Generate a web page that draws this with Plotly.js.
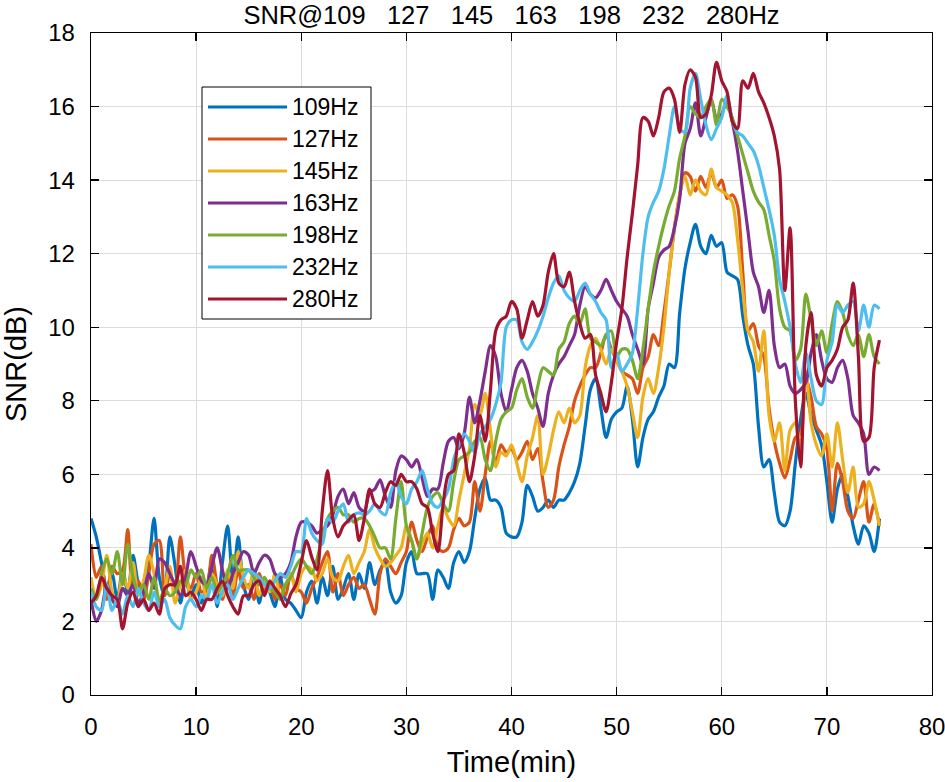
<!DOCTYPE html>
<html>
<head>
<meta charset="utf-8">
<script src="https://cdn.plot.ly/plotly-3.0.1.min.js"></script>
<style>html,body{margin:0;padding:0;background:#fff;}#chart{width:945px;height:782px;}</style>
</head>
<body>
<div id="chart"></div>
<script>
// ---- data (SNR in dB, sampled every 0.5 min from 0 to 75 min) ----
const timeMin = [];
for (let i = 0; i <= 150; i++) timeMin.push(i * 0.5);

const seriesNames = ['109Hz', '127Hz', '145Hz', '163Hz', '198Hz', '232Hz', '280Hz'];

const snr109 = [4.8,4.3,3.6,2.9,3.3,2.6,3.4,2.8,3.8,3.0,
 2.6,3.5,4.8,3.2,2.7,4.3,3.5,2.5,3.1,2.7,
 3.0,2.5,2.9,3.6,2.4,3.6,4.6,3.1,4.3,3.0,
 2.6,3.4,2.5,3.1,2.8,2.4,3.2,2.6,2.5,2.3,
 2.1,2.8,3.1,2.5,3.2,2.7,3.5,2.6,2.9,3.3,
 2.6,3.3,2.9,3.6,3.0,3.4,3.6,2.8,2.5,2.7,
 3.6,3.9,3.3,3.3,3.3,2.6,3.4,3.2,2.9,3.6,
 3.9,3.6,3.9,4.8,5.6,5.9,5.3,5.3,5.1,4.4,
 4.3,4.3,4.7,5.7,5.4,5.0,5.1,5.3,5.1,5.3,
 5.3,5.5,5.8,6.3,7.3,8.3,8.6,7.8,7.0,7.5,
 7.7,7.8,8.4,7.5,6.2,7.0,7.5,7.7,8.1,8.4,
 9.0,8.9,10.4,11.6,12.3,12.8,12.2,12.0,12.5,12.2,
 12.3,11.5,11.4,11.3,10.3,9.5,9.0,7.3,6.2,6.4,
 5.5,4.7,4.6,5.0,6.3,7.5,8.2,7.6,7.2,6.8,
 5.8,4.7,5.6,6.0,5.4,4.6,4.1,4.6,4.4,3.9,
 4.8];

const snr127 = [4.1,3.2,3.5,2.6,3.5,3.3,3.4,4.5,3.0,3.1,
 2.6,3.3,4.1,4.2,2.7,3.3,2.8,4.3,3.2,2.9,
 3.3,2.8,2.9,3.8,3.0,2.6,3.2,2.7,3.4,2.9,
 3.0,2.6,3.3,2.8,3.1,2.6,3.0,2.7,3.3,2.9,
 2.8,2.5,2.9,3.2,3.6,3.9,2.8,3.3,2.7,3.0,
 3.2,2.9,3.0,2.6,2.2,3.3,3.7,3.5,3.3,3.6,
 3.9,4.7,4.2,3.9,4.3,4.6,4.0,3.9,4.0,4.5,
 4.8,4.6,4.7,5.8,5.0,6.0,6.9,6.3,6.8,6.6,
 6.7,6.4,6.6,6.9,6.4,6.7,5.8,5.1,5.3,6.2,
 6.8,7.3,8.0,8.4,8.7,8.9,8.9,9.3,9.8,9.4,
 9.1,8.8,8.7,8.6,8.2,8.9,9.2,9.8,9.5,10.4,
 11.5,12.7,13.6,14.2,14.1,13.7,14.1,13.8,14.2,13.8,
 14.0,13.5,13.6,13.3,11.5,9.9,10.1,9.5,9.2,7.8,
 6.9,6.3,5.9,6.4,7.0,7.1,8.6,8.1,7.3,7.1,
 6.7,5.0,6.3,5.8,5.0,4.8,5.3,5.8,4.7,5.2,
 4.6];

const snr145 = [3.2,2.6,3.0,3.8,2.8,2.5,3.3,2.9,3.6,2.7,
 3.1,3.8,3.3,2.6,2.9,3.5,2.5,3.0,3.4,2.6,
 2.8,3.2,2.6,3.3,3.0,2.7,3.4,2.9,3.9,3.2,
 2.9,3.4,2.7,3.1,2.8,3.3,2.7,3.0,3.3,2.8,
 3.3,3.5,3.4,3.1,3.3,3.7,3.2,3.1,3.5,3.8,
 3.3,3.6,3.9,4.5,4.0,3.7,3.5,3.6,3.8,4.0,
 4.6,4.2,3.7,4.1,4.4,4.0,4.6,5.1,4.8,4.6,
 5.3,6.0,6.7,7.9,7.6,8.2,7.2,6.2,6.6,6.5,
 6.8,6.3,5.8,6.5,7.0,7.6,6.0,6.5,7.2,7.7,
 7.4,7.8,7.4,7.6,8.9,9.5,9.7,9.4,9.0,9.4,
 9.1,8.8,8.4,7.7,7.0,8.1,8.6,8.2,8.9,10.0,
 11.5,12.7,13.6,14.1,13.6,14.0,13.7,13.6,14.3,13.8,
 13.7,13.6,13.4,12.4,11.0,9.9,9.6,8.8,9.9,7.6,
 6.9,7.4,6.1,7.2,7.4,6.7,8.8,7.4,6.8,6.5,
 7.1,6.2,7.4,6.4,5.5,6.2,5.1,5.2,5.8,5.3,
 4.6];

const snr163 = [2.6,2.0,2.3,3.0,2.6,2.4,2.9,2.7,3.0,2.5,
 2.8,3.3,2.9,3.7,3.6,3.3,3.0,2.7,3.2,3.9,
 3.5,3.1,3.0,3.5,4.0,3.4,2.9,3.3,3.6,3.9,
 3.8,3.3,3.6,3.8,3.7,3.3,3.2,3.3,3.6,4.3,
 4.7,4.7,4.6,4.4,4.5,4.6,4.9,5.4,5.6,5.2,
 5.5,5.1,5.0,5.5,5.6,5.85,5.4,5.1,6.1,6.5,
 6.4,6.2,6.4,5.9,5.4,5.6,5.6,6.3,6.9,7.0,
 6.7,7.1,8.1,7.4,8.0,8.8,9.5,9.2,8.2,7.7,
 8.3,8.9,9.1,8.8,8.2,7.8,7.3,8.2,8.7,9.0,
 9.2,9.5,9.8,10.6,11.1,10.9,10.8,11.0,11.3,11.0,
 10.7,10.5,10.3,9.8,9.4,9.0,10.5,11.2,11.9,12.1,
 12.2,12.7,13.5,15.0,15.4,16.1,15.2,15.7,16.2,15.7,
 15.8,16.2,15.6,14.8,13.7,12.6,11.5,11.1,10.4,11.0,
 9.5,8.9,9.0,8.4,8.2,8.3,8.5,9.3,9.8,9.1,
 8.6,8.5,8.9,9.1,8.6,7.6,7.4,7.1,6.0,6.2,
 6.1];

const snr198 = [2.9,2.6,3.3,3.7,3.3,3.9,3.0,4.1,3.2,2.8,
 3.0,2.6,3.2,2.5,2.9,2.7,2.8,3.1,3.0,3.4,
 3.2,3.4,2.9,3.2,2.8,3.0,3.3,3.8,3.4,3.4,
 3.4,3.2,3.0,3.2,2.9,2.8,2.6,3.0,3.2,3.5,
 3.7,3.5,3.3,3.7,4.3,4.8,5.0,5.1,4.9,4.9,
 4.7,4.8,4.8,4.6,4.3,4.0,4.0,3.7,4.8,5.8,
 4.6,4.2,3.7,4.4,5.1,5.4,5.5,5.2,5.0,5.8,
 6.4,6.5,6.6,6.9,7.0,6.4,6.1,6.9,7.5,7.7,
 7.8,8.3,8.6,8.1,7.8,8.4,8.9,8.8,8.7,9.4,
 9.6,10.1,10.3,10.1,10.5,9.7,9.6,9.5,9.8,9.9,
 9.2,9.4,9.4,9.1,8.6,9.4,10.5,11.5,12.2,12.8,
 13.3,13.7,14.6,15.2,16.0,15.8,15.7,16.0,16.2,15.5,
 16.2,16.0,15.7,15.2,14.7,14.2,13.7,13.4,13.2,12.5,
 11.8,10.5,10.0,9.9,9.1,9.4,10.9,10.2,9.5,9.9,
 9.3,10.1,10.7,10.4,9.8,9.5,9.8,9.2,9.8,9.2,
 9.0];

const snr232 = [2.8,2.4,2.3,3.0,2.3,2.6,2.2,2.7,2.4,2.9,
 2.5,2.3,2.8,2.4,2.6,2.1,1.9,1.8,2.4,2.6,
 2.4,2.7,2.6,3.0,2.5,2.8,3.0,2.6,2.9,3.2,
 3.4,3.3,3.2,3.0,2.9,3.1,3.3,3.2,3.5,3.9,
 3.9,4.8,4.4,4.2,4.1,4.8,4.7,5.0,5.2,4.7,
 4.9,4.95,4.9,5.0,5.2,5.0,4.9,5.5,5.8,5.4,
 5.2,5.6,5.8,6.1,5.6,5.2,5.1,5.3,5.6,6.4,
 6.8,7.1,6.9,6.6,7.1,7.3,7.5,7.9,8.5,10.0,
 10.2,10.2,9.6,9.4,9.6,9.9,10.3,10.8,11.2,11.4,
 11.0,10.8,10.7,11.0,11.2,10.9,10.7,10.4,10.2,8.9,
 9.3,8.8,9.0,9.3,10.5,12.0,13.0,13.4,13.7,14.3,
 15.2,16.0,15.4,15.3,16.5,16.9,16.2,15.5,15.1,15.4,
 15.7,16.3,15.6,15.3,15.2,15.0,14.8,14.4,13.8,13.2,
 12.5,11.3,10.7,10.0,9.0,8.5,9.3,8.6,8.0,7.9,
 9.1,9.6,10.6,10.4,10.6,10.7,9.9,10.6,10.0,10.6,
 10.5];

const snr280 = [2.5,2.7,3.2,2.9,2.7,2.6,1.8,2.5,2.8,2.4,
 2.6,2.3,2.5,2.2,2.9,3.0,3.0,3.5,2.7,2.8,
 2.6,2.3,2.6,2.6,2.9,3.1,2.7,2.4,2.2,2.7,
 2.7,3.0,3.1,2.7,3.1,2.9,2.7,2.4,2.75,3.0,
 3.6,4.2,3.75,3.4,5.0,6.1,4.8,4.3,4.6,4.75,
 4.9,4.2,4.8,5.6,5.2,5.1,5.5,5.8,5.7,6.0,
 5.8,5.8,5.6,5.2,5.1,4.4,3.9,5.2,6.0,6.1,
 7.1,6.6,5.8,6.5,7.6,6.9,8.3,9.9,10.2,10.3,
 10.7,10.5,9.7,10.2,10.7,10.3,10.6,11.5,12.0,11.2,
 11.1,11.5,10.7,10.1,9.7,9.8,8.7,8.2,7.7,8.5,
 9.6,10.5,11.9,13.1,14.4,15.7,15.6,15.2,15.7,16.4,
 16.5,16.2,15.3,16.6,17.0,16.8,15.7,15.8,16.3,17.2,
 16.7,16.4,15.6,15.4,16.7,16.5,16.9,16.4,16.1,15.7,
 15.2,14.3,11.0,12.7,8.0,6.2,9.5,10.4,8.7,8.4,
 8.9,9.1,9.4,10.0,10.2,11.2,9.2,6.9,7.0,8.9,
 9.65];

const xTicks = [0, 10, 20, 30, 40, 50, 60, 70, 80];
const yTicks = [0, 2, 4, 6, 8, 10, 12, 14, 16, 18];
const titleText = 'SNR@109\u00a0\u00a0\u00a0127\u00a0\u00a0\u00a0145\u00a0\u00a0\u00a0163\u00a0\u00a0\u00a0198\u00a0\u00a0\u00a0232\u00a0\u00a0\u00a0280Hz';

// ---- styling ----
const colors = ['#0072BD', '#D95319', '#EDB120', '#7E2F8E', '#77AC30', '#4DBEEE', '#A2142F'];
const allSeries = [snr109, snr127, snr145, snr163, snr198, snr232, snr280];
const FONT = 'Liberation Sans, Arial, Helvetica, sans-serif';

const W = 945, H = 782, ML = 91, MR = 13, MT = 33, MB = 87;
const PW = W - ML - MR, PH = H - MT - MB;
const px = x => (x - ML) / PW;
const py = y => 1 - (y - MT) / PH;

const traces = allSeries.map((s, i) => ({
  x: timeMin, y: s, type: 'scatter', mode: 'lines', name: seriesNames[i],
  line: {color: colors[i], width: 3.2, shape: 'spline', smoothing: 0.8},
  showlegend: false, hoverinfo: 'skip'
}));

// custom MATLAB-style legend box
const shapes = [{
  type: 'rect', xref: 'paper', yref: 'paper',
  x0: px(202), x1: px(371), y0: py(319), y1: py(87),
  line: {color: '#000', width: 1}, fillcolor: '#fff', layer: 'above'
}];
const annotations = [];
seriesNames.forEach((n, i) => {
  const yy = py(107 + 32 * i);
  shapes.push({type: 'line', xref: 'paper', yref: 'paper', x0: px(208), x1: px(287), y0: yy, y1: yy,
    line: {color: colors[i], width: 3}, layer: 'above'});
  annotations.push({xref: 'paper', yref: 'paper', x: px(290), y: yy, xanchor: 'left', yanchor: 'middle',
    text: n, showarrow: false, font: {family: FONT, size: 23, color: '#000'}});
});

const axisCommon = {
  showline: true, linecolor: '#000', linewidth: 1.3, mirror: 'ticks',
  ticks: 'inside', ticklen: 8, tickwidth: 1.3, tickcolor: '#000',
  showgrid: true, gridcolor: '#dcdcdc', gridwidth: 1, zeroline: false,
  ticklabeloverflow: 'allow',
  tickfont: {family: FONT, size: 24, color: '#000'}
};

const layout = {
  width: W, height: H,
  margin: {l: ML, r: MR, t: MT, b: MB},
  paper_bgcolor: '#fff', plot_bgcolor: '#fff',
  showlegend: false,
  title: {text: titleText, font: {family: FONT, size: 25.5, color: '#000'},
    x: 0.5, xref: 'paper', y: 1 - 15 / H, yref: 'container', yanchor: 'middle'},
  xaxis: Object.assign({}, axisCommon, {
    range: [0, 80], tickvals: xTicks, ticktext: xTicks.map(String),
    ticklabelstandoff: 10,
    title: {text: 'Time(min)', font: {family: FONT, size: 29, color: '#000'}, standoff: 12}
  }),
  yaxis: Object.assign({}, axisCommon, {
    range: [0, 18], tickvals: yTicks, ticktext: yTicks.map(String),
    ticklabelstandoff: 10,
    title: {text: 'SNR(dB)', font: {family: FONT, size: 29, color: '#000'}, standoff: 16}
  }),
  shapes: shapes,
  annotations: annotations
};

Plotly.newPlot('chart', traces, layout, {displayModeBar: false, staticPlot: true});
</script>
</body>
</html>
